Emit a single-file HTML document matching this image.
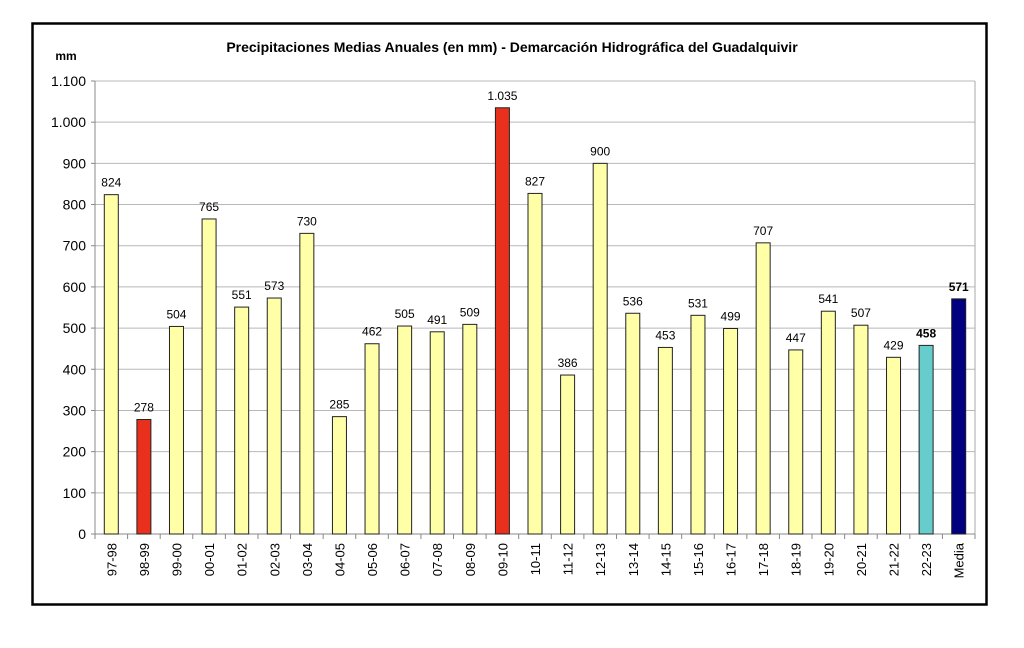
<!DOCTYPE html>
<html><head><meta charset="utf-8"><style>body{margin:0;background:#fff}</style></head><body>
<svg width="1024" height="643" xmlns="http://www.w3.org/2000/svg" font-family="Liberation Sans, Arial, sans-serif">
<rect x="0" y="0" width="1024" height="643" fill="#fff"/>
<rect x="32.5" y="23.5" width="954" height="581" fill="#fff" stroke="#000" stroke-width="2.5"/>
<text x="512" y="52" text-anchor="middle" font-size="14" font-weight="bold">Precipitaciones Medias Anuales (en mm) - Demarcación Hidrográfica del Guadalquivir</text>
<text x="66" y="60" text-anchor="middle" font-size="12" font-weight="bold">mm</text>
</svg>
<script>
var s=document.querySelector('svg'),ns='http://www.w3.org/2000/svg';
function el(t,a,txt){var e=document.createElementNS(ns,t);for(var k in a)e.setAttribute(k,a[k]);if(txt!=null)e.textContent=txt;s.appendChild(e);return e;}
var L=95,R=975,T=81,B=534,sc=(B-T)/1100;
for(var v=0;v<=1100;v+=100){var y=B-v*sc;
 if(v>0)el('line',{x1:L,x2:R,y1:y,y2:y,stroke:'#b8b8b8','stroke-width':1});
 el('line',{x1:L-4,x2:L,y1:y,y2:y,stroke:'#888'});
 el('text',{x:L-9,y:y+5,'text-anchor':'end','font-size':14},v>=1000?Math.floor(v/1000)+'.'+String(v%1000).padStart(3,'0'):v);}
el('line',{x1:L,x2:L,y1:T,y2:B,stroke:'#888'});
el('line',{x1:R,x2:R,y1:T,y2:B,stroke:'#aaa'});
el('line',{x1:L,x2:R,y1:B,y2:B,stroke:'#888'});
var d=[['97-98',824],['98-99',278],['99-00',504],['00-01',765],['01-02',551],['02-03',573],['03-04',730],['04-05',285],['05-06',462],['06-07',505],['07-08',491],['08-09',509],['09-10',1035],['10-11',827],['11-12',386],['12-13',900],['13-14',536],['14-15',453],['15-16',531],['16-17',499],['17-18',707],['18-19',447],['19-20',541],['20-21',507],['21-22',429],['22-23',458],['Media',571]];
var w=(R-L)/27;
for(var i=0;i<=27;i++)el('line',{x1:L+i*w,x2:L+i*w,y1:B,y2:B+5,stroke:'#888'});
d.forEach(function(p,i){var cx=L+w*(i+0.5),h=p[1]*sc,c='#ffffa8';
 if(i==1||i==12)c='#e8301c';if(i==25)c='#66cccc';if(i==26)c='#000080';
 el('rect',{x:cx-7,y:B-h,width:14,height:h,fill:c,stroke:'#222','stroke-width':1});
 var lab=p[1]>=1000?'1.035':String(p[1]);
 el('text',{x:cx,y:B-h-8,'text-anchor':'middle','font-size':12,'font-weight':i>=25?'bold':'normal'},lab);
 el('text',{transform:'translate('+(cx+5)+','+(B+9)+') rotate(-90)','text-anchor':'end','font-size':13},p[0]);
});
</script>
</body></html>
